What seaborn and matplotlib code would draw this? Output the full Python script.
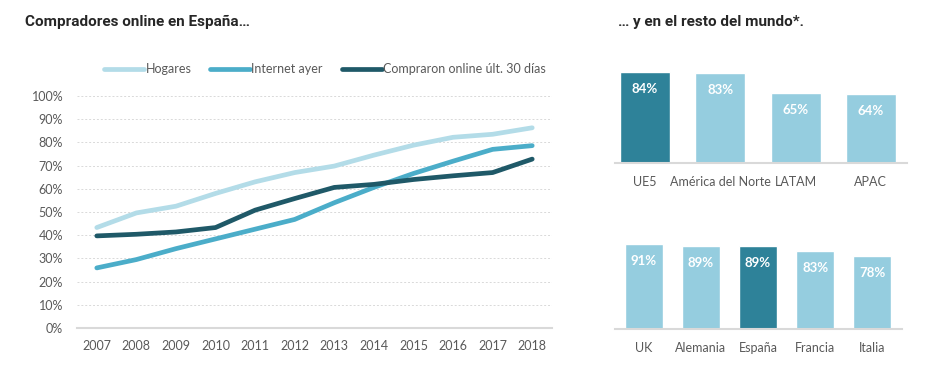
import numpy as np
import pandas as pd
import matplotlib
matplotlib.use("Agg")
import matplotlib.pyplot as plt
import seaborn as sns

sns.set_theme(style="white")
plt.rcParams['font.family'] = ['Lato', 'DejaVu Sans']

# ---------------------------------------------------------------------
# Data
# ---------------------------------------------------------------------
years = list(range(2007, 2019))
hogares = [43.3, 49.6, 52.5, 58.0, 63.0, 67.0, 69.8, 74.5, 78.8, 82.2, 83.5, 86.3]
internet_ayer = [25.9, 29.5, 34.2, 38.4, 42.6, 46.8, 54.0, 60.6, 66.6, 71.9, 77.0, 78.6]
compraron = [39.7, 40.4, 41.4, 43.3, 50.8, 55.8, 60.6, 61.9, 64.0, 65.6, 67.0, 72.8]
series_names = ["Hogares", "Internet ayer", "Compraron online últ. 30 días"]

regions = ["UE5", "América del Norte", "LATAM", "APAC"]
region_vals = [84, 83, 65, 64]

countries = ["UK", "Alemania", "España", "Francia", "Italia"]
country_vals = [91, 89, 89, 83, 78]

# colours
LINE_COLORS = ["#b3dce8", "#4badc9", "#1f5968"]
BAR_LIGHT = "#95cddf"
BAR_DARK = "#2e8299"
GREY_TXT = "#595959"

df_lines = pd.DataFrame({
    "year": years * 3,
    "value": hogares + internet_ayer + compraron,
    "serie": [series_names[0]] * 12 + [series_names[1]] * 12 + [series_names[2]] * 12,
})

fig = plt.figure(figsize=(9.33, 3.82), dpi=100)
W, H = 933, 382


def px_axes(x0, y0, x1, y1):
    return fig.add_axes([x0 / W, 1 - y1 / H, (x1 - x0) / W, (y1 - y0) / H])


# ---------------------------------------------------------------------
# Left: line chart
# ---------------------------------------------------------------------
ax = px_axes(77, 96, 552, 328)
sns.lineplot(data=df_lines, x="year", y="value", hue="serie",
             palette=LINE_COLORS, linewidth=3.4, ax=ax, clip_on=False,
             solid_capstyle="round", solid_joinstyle="round")
ax.set_xlim(2006.5, 2018.5)
ax.set_ylim(0, 100)
ax.set_yticks(np.arange(0, 101, 10))
ax.set_yticklabels([f"{v}%" for v in range(0, 101, 10)])
ax.set_xticks(years)
ax.set_xticklabels([str(y) for y in years])
ax.set_xlabel("")
ax.set_ylabel("")
ax.tick_params(axis="both", length=0, labelsize=9, colors=GREY_TXT)
ax.tick_params(axis="x", pad=9)
ax.tick_params(axis="y", pad=10)
for v in range(10, 101, 10):
    ax.axhline(v, color="#d9d9d9", lw=0.7, ls=(0, (2, 2)), zorder=0)
for s in ["top", "right", "left"]:
    ax.spines[s].set_visible(False)
ax.spines["bottom"].set_color("#d9d9d9")
ax.spines["bottom"].set_linewidth(1.5)

leg = ax.legend(loc="lower center", bbox_to_anchor=(0.522, 1.04), ncol=3,
                frameon=False, fontsize=9, handlelength=3.2, handletextpad=0.1,
                columnspacing=1.5)
for txt in leg.get_texts():
    txt.set_color(GREY_TXT)
for line in leg.get_lines():
    line.set_linewidth(3.4)

fig.text(25 / W, 1 - 22 / H, "Compradores online en España…", fontsize=11,
         fontweight="bold", color="#262626", va="center", family=["Roboto", "DejaVu Sans"])
fig.text(618 / W, 1 - 22 / H, "… y en el resto del mundo*.", fontsize=11,
         fontweight="bold", color="#262626", va="center", family=["Roboto", "DejaVu Sans"])


# ---------------------------------------------------------------------
# Right: bar charts
# ---------------------------------------------------------------------
def bar_panel(axb, cats, vals, highlight, ymax, xlim):
    d = pd.DataFrame({"cat": cats, "val": vals})
    pal = [BAR_DARK if c == highlight else BAR_LIGHT for c in cats]
    sns.barplot(data=d, x="cat", y="val", hue="cat", palette=pal, legend=False,
                width=0.665, saturation=1, ax=axb)
    axb.set_ylim(0, ymax)
    axb.set_xlim(*xlim)
    axb.set_xlabel("")
    axb.set_ylabel("")
    axb.set_yticks([])
    axb.tick_params(axis="x", length=0, labelsize=9, colors=GREY_TXT, pad=9)
    for s in ["top", "right", "left"]:
        axb.spines[s].set_visible(False)
    axb.spines["bottom"].set_color("#d9d9d9")
    axb.spines["bottom"].set_linewidth(1.5)
    for i, v in enumerate(vals):
        axb.annotate(f"{v}%", (i, v), xytext=(0, -12), textcoords="offset points",
                     ha="center", va="center", color="white", fontsize=9.5,
                     fontweight="bold")


ax_top = px_axes(615, 60, 907, 163)
bar_panel(ax_top, regions, region_vals, "UE5", 103 / 90.6 * 84, (-0.4, 3.48))

ax_bot = px_axes(615, 234, 902, 329)
bar_panel(ax_bot, countries, country_vals, "España", 95 / 85 * 91, (-0.5, 4.52))

fig.savefig("out.png", dpi=100)
